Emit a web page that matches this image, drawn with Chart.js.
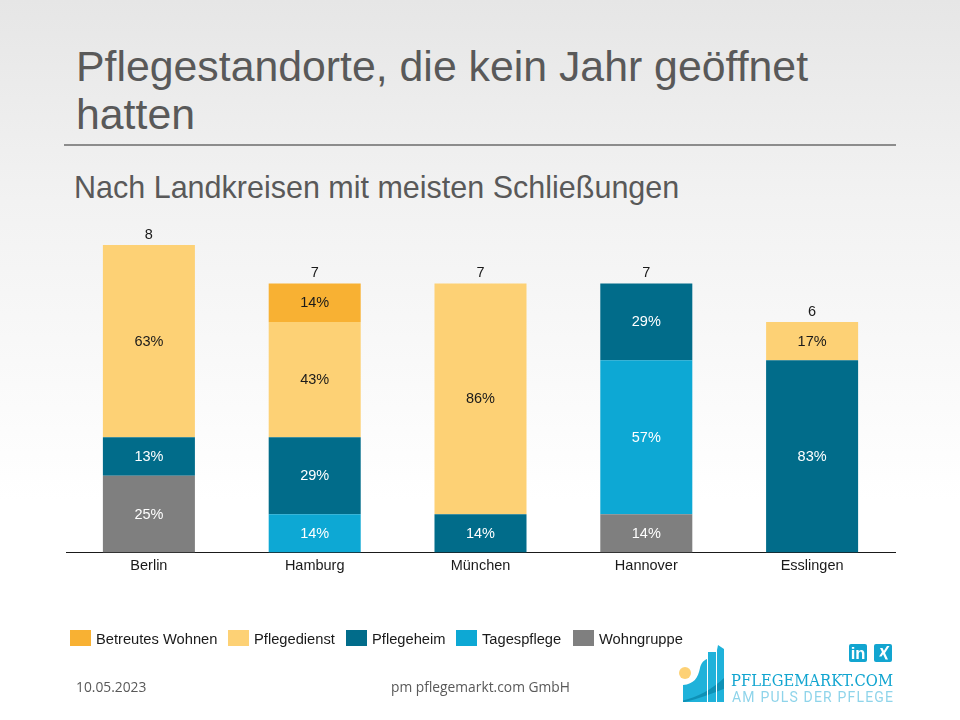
<!DOCTYPE html>
<html>
<head>
<meta charset="utf-8">
<script src="https://cdn.jsdelivr.net/npm/chart.js@4"></script>
<style>
  html, body { margin: 0; padding: 0; }
  body { width: 960px; height: 720px; position: relative; overflow: hidden;
    background: linear-gradient(#e6e6e6 0, #f2f2f2 200px, #ffffff 500px); font-family: "Liberation Sans", Arial, sans-serif; }
  .abs { position: absolute; white-space: nowrap; }
  #title { left: 76px; top: 43px; font-size: 42.8px; line-height: 47.5px; color: #595959; }
  #rule { left: 64px; top: 144px; width: 832px; height: 2px; background: #8c8c8c; }
  #subtitle { left: 74px; top: 169px; font-size: 30.5px; line-height: 36px; color: #595959; }
  #chartBox { left: 0; top: 0; width: 960px; height: 720px; }
  #legend { left: 0; top: 0; }
  .sw { position: absolute; top: 630px; width: 21px; height: 16px; }
  .lb { position: absolute; top: 630px; font-size: 14.7px; line-height: 18px; color: #1a1a1a; white-space: nowrap; }
  .foot { font-family: "Open Sans", sans-serif; font-size: 13.8px; line-height: 18px; color: #595959; top: 678px; }
  #logo { left: 660px; top: 620px; }
</style>
</head>
<body>
<div class="abs" id="title">Pflegestandorte, die kein Jahr geöffnet<br>hatten</div>
<div class="abs" id="rule"></div>
<div class="abs" id="subtitle">Nach Landkreisen mit meisten Schließungen</div>
<div class="abs" id="chartBox"><canvas id="closuresChart" width="960" height="720"></canvas></div>
<div class="abs" id="legend"></div>
<div class="abs foot" style="left:76px">10.05.2023</div>
<div class="abs foot" style="left:391px">pm pflegemarkt.com GmbH</div>
<svg class="abs" id="logo" width="300" height="100" viewBox="0 0 300 100">
  <defs>
    <clipPath id="mark">
      <path d="M23 65 C34 64 38 58 40 48 C41 43 44 40 47 39 L47 82 L23 82 Z"/>
      <rect x="48" y="32" width="8" height="50"/>
      <path d="M57 30 L57 82 L64 82 L64 29 L58 25 Z"/>
    </clipPath>
  </defs>
  <circle cx="25" cy="53" r="6" fill="#fdd175"/>
  <g clip-path="url(#mark)">
    <rect x="20" y="20" width="50" height="65" fill="#1fb2da"/>
    <path d="M20 81 C36 78 52 70 66 56 L66 68 C52 74 36 80 20 83 Z" fill="#0a86aa" opacity="0.75"/>
  </g>
  <text x="71" y="66" font-family="DejaVu Serif, serif" font-size="17.5" fill="#12a5d0" textLength="162" lengthAdjust="spacingAndGlyphs">PFLEGEMARKT.COM</text>
  <text x="72" y="82" font-family="Roboto, sans-serif" font-size="14" fill="#8fd4ea" textLength="161" lengthAdjust="spacing">AM PULS DER PFLEGE</text>
  <rect x="189" y="24" width="18" height="18" rx="2" fill="#12a5d0"/>
  <text x="198" y="39" text-anchor="middle" font-family="Liberation Sans, sans-serif" font-weight="bold" font-size="16.5" fill="#ffffff">in</text>
  <rect x="214" y="24" width="18" height="18" rx="2" fill="#12a5d0"/>
  <path d="M220 28 L222.5 28 L224.5 32 L221.5 36.5 L219 36.5 L222 32 Z M227 26 L229.5 26 L225 33 L228 39.5 L225.5 39.5 L222.5 33 Z" fill="#ffffff"/>
</svg>

<script>
  const categories = ["Berlin", "Hamburg", "München", "Hannover", "Esslingen"];
  const totals = [8, 7, 7, 7, 6];

  // counts per care type, bottom of the stack first
  const wohngruppe = [2, 0, 0, 1, 0];
  const tagespflege = [0, 1, 0, 4, 0];
  const pflegeheim = [1, 2, 1, 2, 5];
  const pflegedienst = [5, 3, 6, 0, 1];
  const betreutesWohnen = [0, 1, 0, 0, 0];

  const legendNames = ["Betreutes Wohnen", "Pflegedienst", "Pflegeheim", "Tagespflege", "Wohngruppe"];
  const legendSwatchX = [70, 228, 346, 456, 573];
  const legendTextX = [96, 254, 372, 482, 599];

  const colors = {
    "Betreutes Wohnen": "#f8b133",
    "Pflegedienst": "#fdd175",
    "Pflegeheim": "#016c8a",
    "Tagespflege": "#0da8d4",
    "Wohngruppe": "#7f7f7f"
  };
  const labelColors = {
    "Betreutes Wohnen": "#1a1a1a",
    "Pflegedienst": "#1a1a1a",
    "Pflegeheim": "#ffffff",
    "Tagespflege": "#ffffff",
    "Wohngruppe": "#ffffff"
  };

  // legend sits in page html because its spacing is uneven in the original
  let legendHtml = "";
  legendNames.forEach((name, i) => {
    legendHtml += `<div class="sw" style="left:${legendSwatchX[i]}px;background:${colors[name]}"></div>`;
    legendHtml += `<div class="lb" style="left:${legendTextX[i]}px">${name}</div>`;
  });
  document.getElementById("legend").innerHTML = legendHtml;

  function series(name, data) {
    return {
      label: name,
      data: data,
      backgroundColor: colors[name],
      borderWidth: 0,
      categoryPercentage: 1,
      barPercentage: 0.555
    };
  }

  // percent labels inside the segments and totals on top of the stacks
  const barLabels = {
    id: "barLabels",
    afterDatasetsDraw(chart) {
      const ctx = chart.ctx;
      ctx.save();
      ctx.font = '14.5px "Liberation Sans", Arial, sans-serif';
      ctx.textAlign = "center";
      ctx.textBaseline = "middle";
      chart.data.datasets.forEach((ds, d) => {
        chart.getDatasetMeta(d).data.forEach((bar, i) => {
          if (!ds.data[i]) return;
          const pct = Math.round(ds.data[i] / totals[i] * 100);
          ctx.fillStyle = labelColors[ds.label];
          ctx.fillText(pct + "%", bar.x, (bar.y + bar.base) / 2 + 0.5);
        });
      });
      ctx.fillStyle = "#1a1a1a";
      totals.forEach((total, i) => {
        const x = chart.scales.x.getPixelForValue(i);
        ctx.fillText(total, x, chart.scales.y.getPixelForValue(total) - 10);
      });
      ctx.restore();
    }
  };

  new Chart("closuresChart", {
    type: "bar",
    data: {
      labels: categories,
      datasets: [
        series("Wohngruppe", wohngruppe),
        series("Tagespflege", tagespflege),
        series("Pflegeheim", pflegeheim),
        series("Pflegedienst", pflegedienst),
        series("Betreutes Wohnen", betreutesWohnen)
      ]
    },
    options: {
      responsive: false,
      animation: false,
      layout: { padding: { left: 66, right: 65, top: 245, bottom: 140 } },
      scales: {
        x: {
          stacked: true,
          grid: { display: false, drawTicks: false },
          border: { color: "#1a1a1a", width: 1 },
          ticks: {
            color: "#1a1a1a",
            padding: 5,
            maxRotation: 0,
            font: { family: '"Liberation Sans", Arial, sans-serif', size: 14.5 }
          }
        },
        y: {
          stacked: true,
          display: false,
          min: 0,
          max: 8
        }
      },
      plugins: {
        legend: { display: false },
        tooltip: { enabled: false }
      }
    },
    plugins: [barLabels]
  });
</script>
</body>
</html>
